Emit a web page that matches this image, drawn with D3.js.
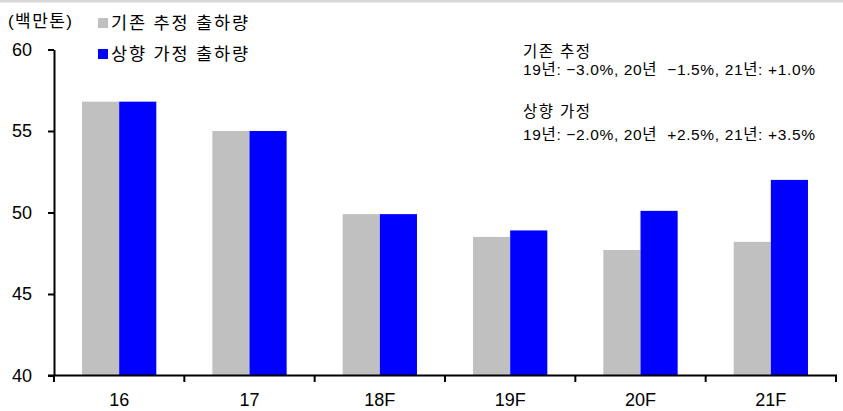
<!DOCTYPE html>
<html>
<head>
<meta charset="utf-8">
<script src="https://cdn.jsdelivr.net/npm/d3@7"></script>
<style>
  body { margin: 0; background: #fff; }
  svg text { font-family: "Liberation Sans", Arial, "Noto Sans CJK KR", sans-serif; fill: #000; white-space: pre; }
</style>
</head>
<body>
<svg id="chart" width="843" height="411"></svg>
<script>
var years = ["16", "17", "18F", "19F", "20F", "21F"];
var baseCase = [56.8, 55.0, 49.9, 48.5, 47.7, 48.2];   // 기존 추정
var upCase = [56.8, 55.0, 49.9, 48.9, 50.1, 52.0];     // 상향 가정
var yTicks = [40, 45, 50, 55, 60];
var seriesNames = ["기존 추정 출하량", "상향 가정 출하량"];
var notes = [
  "기존 추정",
  "19년: \u22123.0%, 20년  \u22121.5%, 21년: +1.0%",
  "상향 가정",
  "19년: \u22122.0%, 20년  +2.5%, 21년: +3.5%"
];

var svg = d3.select("#chart");

// 상단 회색 띠
svg.append("rect").attr("x", 0).attr("y", 0).attr("width", 843).attr("height", 2.5).attr("fill", "#d9d9d9");

var y = d3.scaleLinear().domain([40, 60]).range([375.5, 49.5]);
var x = d3.scaleBand().domain(years).range([54, 836]).paddingInner(0.43).paddingOuter(0.215);
var step = x.step();
var xs = d3.scaleBand().domain(["base", "up"]).range([0, x.bandwidth()]);

var rows = years.map(function(d, i) { return { year: d, base: baseCase[i], up: upCase[i] }; });

// 막대
var g = svg.append("g");
var grp = g.selectAll("g.grp").data(rows).enter().append("g")
  .attr("transform", function(d) { return "translate(" + x(d.year) + ",0)"; });
grp.append("rect")
  .attr("x", xs("base")).attr("width", xs.bandwidth())
  .attr("y", function(d) { return y(d.base); })
  .attr("height", function(d) { return y(40) - y(d.base); })
  .attr("fill", "#c0c0c0");
grp.append("rect")
  .attr("x", xs("up")).attr("width", xs.bandwidth())
  .attr("y", function(d) { return y(d.up); })
  .attr("height", function(d) { return y(40) - y(d.up); })
  .attr("fill", "#0000ff");

// y축
var yAxis = svg.append("g").attr("transform", "translate(54,0)")
  .call(d3.axisLeft(y).tickValues(yTicks).tickSize(6).tickPadding(16).tickSizeOuter(0));
yAxis.select(".domain").attr("stroke-width", 2);
yAxis.selectAll(".tick line").attr("stroke-width", 2);
yAxis.selectAll("text").attr("font-size", 18).attr("fill", "#000");

// x축
var xAxis = svg.append("g").attr("transform", "translate(0,375.5)")
  .call(d3.axisBottom(x).tickSize(0).tickPadding(18).tickSizeOuter(0));
xAxis.select(".domain").remove();
xAxis.selectAll("text").attr("font-size", 18).attr("fill", "#000");
svg.append("line").attr("x1", 48).attr("x2", 837).attr("y1", 375.5).attr("y2", 375.5)
  .attr("stroke", "#000").attr("stroke-width", 2);
svg.selectAll("line.xt").data(d3.range(years.length + 1)).enter().append("line")
  .attr("class", "xt")
  .attr("x1", function(i) { return 54 + i * step; })
  .attr("x2", function(i) { return 54 + i * step; })
  .attr("y1", 375.5).attr("y2", 382)
  .attr("stroke", "#000").attr("stroke-width", 2);

// 단위
svg.append("text").attr("x", 8).attr("y", 27).attr("font-size", 17)
  .attr("textLength", 64).attr("lengthAdjust", "spacing").text("(백만톤)");

// 범례
var legendColors = ["#c0c0c0", "#0000ff"];
var leg = svg.selectAll("g.leg").data(seriesNames).enter().append("g")
  .attr("transform", function(d, i) { return "translate(98," + (18 + i * 31) + ")"; });
leg.append("rect").attr("width", 10).attr("height", 10)
  .attr("fill", function(d, i) { return legendColors[i]; });
leg.append("text").attr("x", 13).attr("y", 10.5).attr("font-size", 17.5)
  .attr("textLength", 137).attr("lengthAdjust", "spacing")
  .text(function(d) { return d; });

// 주석
var noteY = [57, 75, 117, 140];
var noteW = [67, 292, 67, 292];
svg.selectAll("text.note").data(notes).enter().append("text")
  .attr("class", "note")
  .attr("x", 523)
  .attr("y", function(d, i) { return noteY[i]; })
  .attr("font-size", 15.5)
  .attr("textLength", function(d, i) { return noteW[i]; })
  .attr("lengthAdjust", "spacing")
  .text(function(d) { return d; });
</script>
</body>
</html>
